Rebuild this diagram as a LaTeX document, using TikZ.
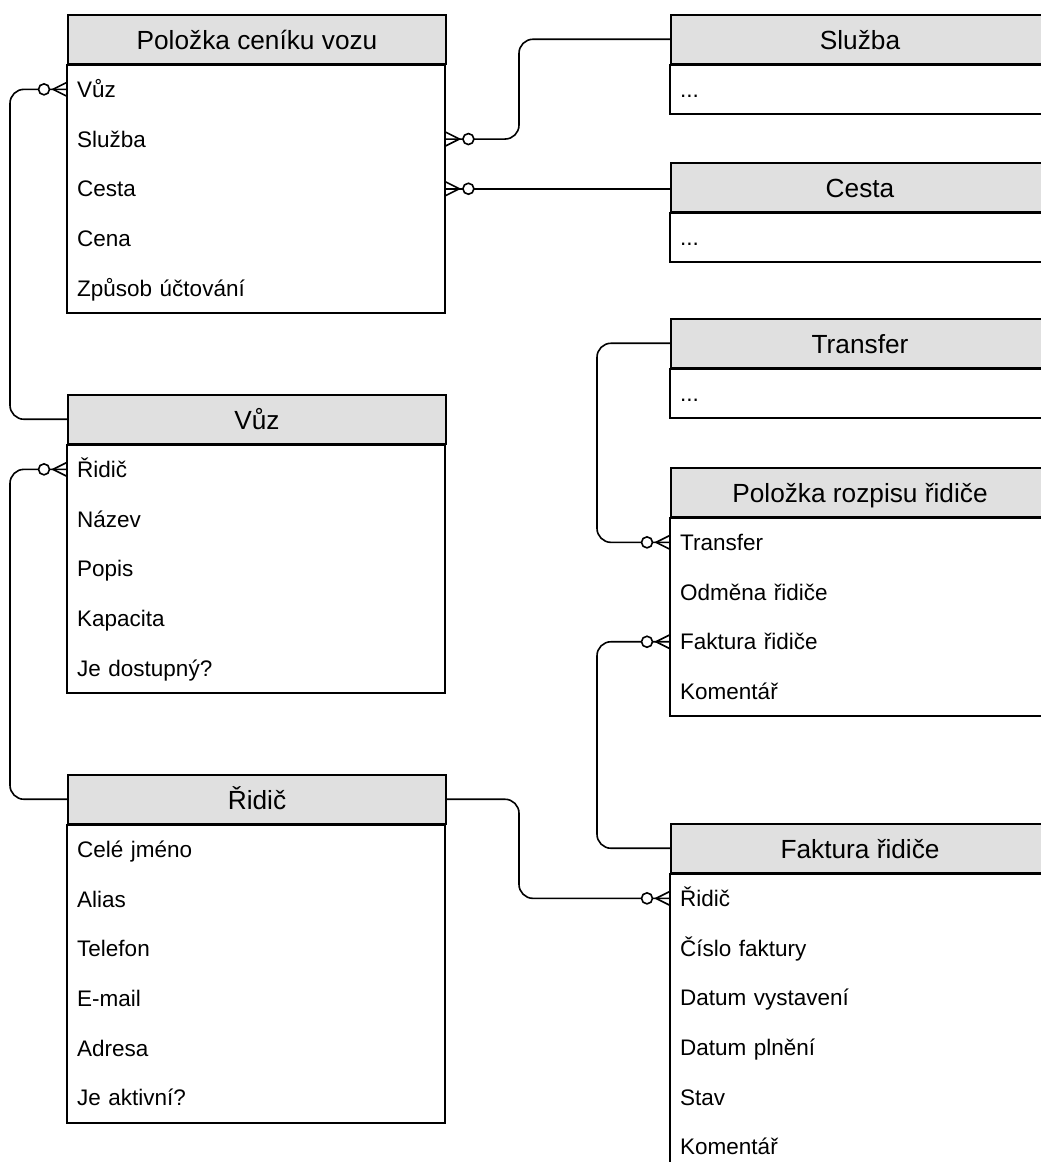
\documentclass[tikz,border=0pt]{standalone}
\usepackage{fontspec}
\setmainfont{Liberation Sans}
\usetikzlibrary{calc}
\definecolor{hdrgray}{RGB}{224,224,224}
\tikzset{
  tblhead/.style={draw=black, line width=2pt, fill=hdrgray, minimum width=378pt,
    minimum height=48.5pt, inner sep=0pt, text height=21pt, text depth=0pt,
    font=\fontsize{26.25}{30}\selectfont, anchor=north west},
  tblrow/.style={minimum width=378pt, minimum height=49.3pt, inner xsep=10pt, inner ysep=0pt,
    text width=358pt, text height=17pt, text depth=1pt, align=left,
    font=\fontsize{22.5}{26}\selectfont, anchor=north west},
  tblframe/.style={draw=black, line width=2pt},
  conn/.style={draw=black, line width=1.6pt, rounded corners=14pt},
  zeromany/.pic={
    \draw[line width=1.6pt] (0,-7) -- (-14,0) -- (0,7);
    \draw[line width=1.6pt, fill=white] (-23,0) circle (5.5pt);
  }
}
\begin{document}
\begin{tikzpicture}[x=1pt,y=-1pt]
\useasboundingbox (0,0) rectangle (1041,1162);
\clip (0,0) rectangle (1041,1162);

% routing columns
\coordinate (lx) at (10,0);
\coordinate (mx) at (519,0);
\coordinate (rx) at (597,0);

% Položka ceníku vozu
\node[tblhead] (cenik) at (67,14) {Položka ceníku vozu};
\node[tblrow] (cenik-vuz) at (cenik.south west) {Vůz};
\node[tblrow] (cenik-sluzba) at (cenik-vuz.south west) {Služba};
\node[tblrow] (cenik-cesta) at (cenik-sluzba.south west) {Cesta};
\node[tblrow] (cenik-cena) at (cenik-cesta.south west) {Cena};
\node[tblrow] (cenik-zpusob) at (cenik-cena.south west) {Způsob účtování};
\draw[tblframe] (cenik.south west) rectangle (cenik-zpusob.south east);

% Služba
\node[tblhead] (sluzba) at (670,14) {Služba};
\node[tblrow] (sluzba-x) at (sluzba.south west) {...};
\draw[tblframe] (sluzba.south west) rectangle (sluzba-x.south east);

% Cesta
\node[tblhead] (cesta) at (670,162) {Cesta};
\node[tblrow] (cesta-x) at (cesta.south west) {...};
\draw[tblframe] (cesta.south west) rectangle (cesta-x.south east);

% Transfer
\node[tblhead] (transfer) at (670,318) {Transfer};
\node[tblrow] (transfer-x) at (transfer.south west) {...};
\draw[tblframe] (transfer.south west) rectangle (transfer-x.south east);

% Položka rozpisu řidiče
\node[tblhead] (rozpis) at (670,467) {Položka rozpisu řidiče};
\node[tblrow] (rozpis-transfer) at (rozpis.south west) {Transfer};
\node[tblrow] (rozpis-odmena) at (rozpis-transfer.south west) {Odměna řidiče};
\node[tblrow] (rozpis-faktura) at (rozpis-odmena.south west) {Faktura řidiče};
\node[tblrow] (rozpis-koment) at (rozpis-faktura.south west) {Komentář};
\draw[tblframe] (rozpis.south west) rectangle (rozpis-koment.south east);

% Faktura řidiče
\node[tblhead] (faktura) at (670,823) {Faktura řidiče};
\node[tblrow] (faktura-ridic) at (faktura.south west) {Řidič};
\node[tblrow] (faktura-cislo) at (faktura-ridic.south west) {Číslo faktury};
\node[tblrow] (faktura-vyst) at (faktura-cislo.south west) {Datum vystavení};
\node[tblrow] (faktura-plneni) at (faktura-vyst.south west) {Datum plnění};
\node[tblrow] (faktura-stav) at (faktura-plneni.south west) {Stav};
\node[tblrow] (faktura-koment) at (faktura-stav.south west) {Komentář};
\draw[tblframe] (faktura.south west) rectangle (faktura-koment.south east);

% Vůz
\node[tblhead] (vuz) at (67,394) {Vůz};
\node[tblrow] (vuz-ridic) at (vuz.south west) {Řidič};
\node[tblrow] (vuz-nazev) at (vuz-ridic.south west) {Název};
\node[tblrow] (vuz-popis) at (vuz-nazev.south west) {Popis};
\node[tblrow] (vuz-kapacita) at (vuz-popis.south west) {Kapacita};
\node[tblrow] (vuz-dostupny) at (vuz-kapacita.south west) {Je dostupný?};
\draw[tblframe] (vuz.south west) rectangle (vuz-dostupny.south east);

% Řidič
\node[tblhead] (ridic) at (67,774) {Řidič};
\node[tblrow] (ridic-jmeno) at (ridic.south west) {Celé jméno};
\node[tblrow] (ridic-alias) at (ridic-jmeno.south west) {Alias};
\node[tblrow] (ridic-telefon) at (ridic-alias.south west) {Telefon};
\node[tblrow] (ridic-email) at (ridic-telefon.south west) {E-mail};
\node[tblrow] (ridic-adresa) at (ridic-email.south west) {Adresa};
\node[tblrow] (ridic-aktivni) at (ridic-adresa.south west) {Je aktivní?};
\draw[tblframe] (ridic.south west) rectangle (ridic-aktivni.south east);

% relationships
\draw[conn] (cenik-vuz.west) -- (cenik-vuz.west -| lx) -- (vuz.west -| lx) -- (vuz.west);
\draw[conn] (vuz-ridic.west) -- (vuz-ridic.west -| lx) -- (ridic.west -| lx) -- (ridic.west);
\draw[conn] (cenik-sluzba.east) -- (cenik-sluzba.east -| mx) -- (sluzba.west -| mx) -- (sluzba.west);
\draw[conn] (cenik-cesta.east) -- (cenik-cesta.east -| cesta.west);
\draw[conn] (transfer.west) -- (transfer.west -| rx) -- (rozpis-transfer.west -| rx) -- (rozpis-transfer.west);
\draw[conn] (rozpis-faktura.west) -- (rozpis-faktura.west -| rx) -- (faktura.west -| rx) -- (faktura.west);
\draw[conn] (ridic.east) -- (ridic.east -| mx) -- (faktura-ridic.west -| mx) -- (faktura-ridic.west);

% zero-or-many ends
\pic at (cenik-vuz.west) {zeromany};
\pic at (vuz-ridic.west) {zeromany};
\pic[xscale=-1] at (cenik-sluzba.east) {zeromany};
\pic[xscale=-1] at (cenik-cesta.east) {zeromany};
\pic at (rozpis-transfer.west) {zeromany};
\pic at (rozpis-faktura.west) {zeromany};
\pic at (faktura-ridic.west) {zeromany};
\end{tikzpicture}
\end{document}
